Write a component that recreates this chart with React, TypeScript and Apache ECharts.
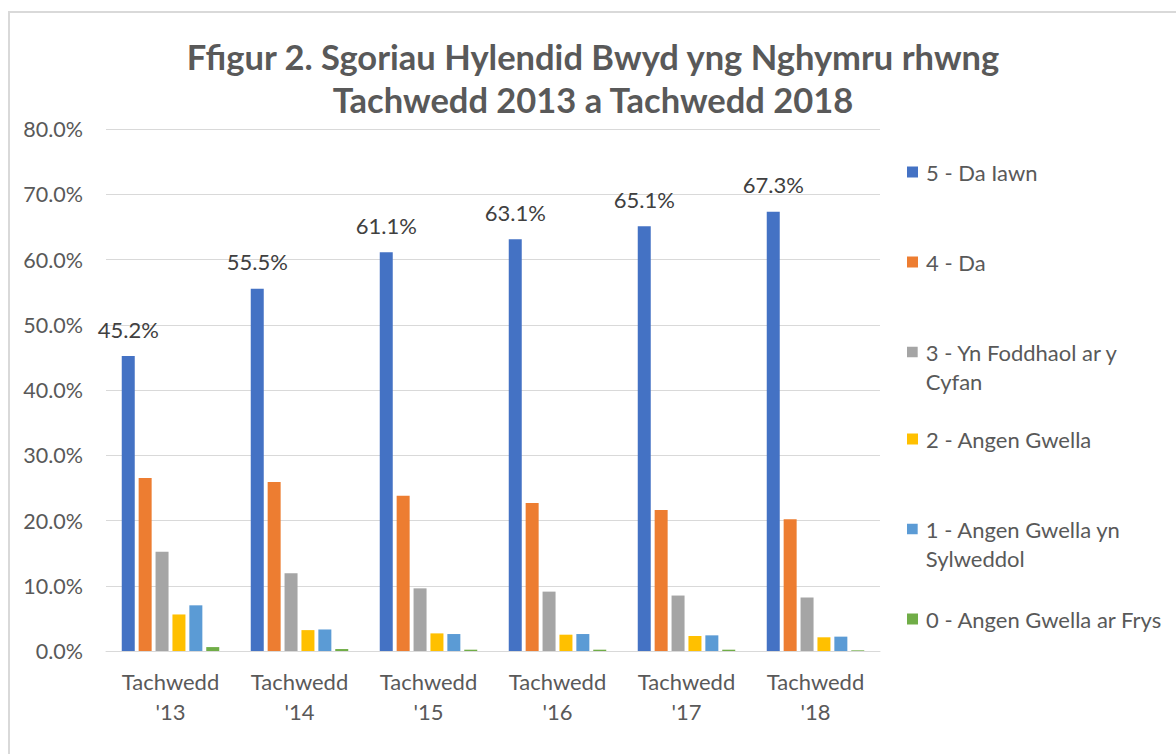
import React, { useEffect, useRef } from "react";
import * as echarts from "echarts";

const categories = ["Tachwedd\n'13", "Tachwedd\n'14", "Tachwedd\n'15", "Tachwedd\n'16", "Tachwedd\n'17", "Tachwedd\n'18"];
const seriesNames = [
  "5 - Da Iawn",
  "4 - Da",
  "3 - Yn Foddhaol ar y\nCyfan",
  "2 - Angen Gwella",
  "1 - Angen Gwella yn\nSylweddol",
  "0 - Angen Gwella ar Frys",
];
const score5 = [45.2, 55.5, 61.1, 63.1, 65.1, 67.3];
const score4 = [26.5, 25.9, 23.8, 22.7, 21.6, 20.2];
const score3 = [15.2, 11.9, 9.6, 9.1, 8.5, 8.2];
const score2 = [5.6, 3.2, 2.7, 2.5, 2.3, 2.1];
const score1 = [7.0, 3.3, 2.6, 2.6, 2.4, 2.2];
const score0 = [0.6, 0.3, 0.2, 0.2, 0.2, 0.1];
const yTicks = { min: 0, max: 80, interval: 10 };
const colors = ["#4472C4", "#ED7D31", "#A5A5A5", "#FFC000", "#5B9BD5", "#70AD47"];
const titleText = "Ffigur 2. Sgoriau Hylendid Bwyd yng Nghymru rhwng\nTachwedd 2013 a Tachwedd 2018";

const FONT = "Lato";
const legendTops = [157, 247, 337, 424, 514, 604];

export default function App() {
  const ref = useRef<HTMLDivElement>(null);
  useEffect(() => {
    if (!ref.current) return;
    const chart = echarts.init(ref.current, null, { renderer: "svg" });
    const allData = [score5, score4, score3, score2, score1, score0];
    const multiIcon = "path://M0,0h10v10h-10z M0,38h0.1v0.1h-0.1z";
    const legends = seriesNames.map((name, i) => {
      const multi = name.includes("\n");
      return {
        data: [name],
        orient: "vertical",
        left: 907,
        top: legendTops[i],
        padding: 0,
        itemWidth: 11,
        itemHeight: multi ? 40.7 : 11,
        icon: multi ? multiIcon : "rect",
        selectedMode: false,
        textStyle: {
          fontFamily: FONT,
          fontSize: 22,
          color: "#595959",
          lineHeight: 30,
          padding: [0, 0, 0, 3],
        },
      };
    });
    const series = allData.map((d, i) => ({
      name: seriesNames[i],
      type: "bar",
      data: d,
      barWidth: 13,
      barGap: "30%",
      itemStyle: { color: colors[i] },
      label:
        i === 0
          ? {
              show: true,
              position: "top",
              distance: 16,
              fontFamily: FONT,
              fontSize: 22,
              color: "#404040",
              formatter: (p: any) => `${Number(p.value).toFixed(1)}%`,
            }
          : { show: false },
    }));
    chart.setOption({
      animation: false,
      backgroundColor: "#ffffff",
      title: {
        text: titleText,
        left: 593,
        top: 35,
        padding: 0,
        textAlign: "center",
        textStyle: {
          fontFamily: FONT,
          fontSize: 34.5,
          fontWeight: "bold",
          color: "#595959",
          lineHeight: 43,
        },
      },
      legend: legends,
      grid: { left: 106, right: 296, top: 129, bottom: 103 },
      xAxis: {
        type: "category",
        data: categories,
        axisLine: { lineStyle: { color: "#d9d9d9", width: 1 } },
        axisTick: { show: false },
        axisLabel: {
          interval: 0,
          fontFamily: FONT,
          fontSize: 22,
          color: "#595959",
          lineHeight: 30,
          margin: 15,
        },
      },
      yAxis: {
        type: "value",
        min: yTicks.min,
        max: yTicks.max,
        interval: yTicks.interval,
        axisLine: { show: false },
        axisTick: { show: false },
        splitLine: { lineStyle: { color: "#d9d9d9", width: 1 } },
        axisLabel: {
          fontFamily: FONT,
          fontSize: 21.5,
          color: "#595959",
          margin: 23,
          formatter: (v: number) => `${v.toFixed(1)}%`,
        },
      },
      graphic: [
        {
          type: "rect",
          silent: true,
          shape: { x: 9, y: 12, width: 1200, height: 800 },
          style: { fill: "none", stroke: "#d9d9d9", lineWidth: 2 },
        },
      ],
      series,
    });
    return () => chart.dispose();
  }, []);
  return (
    <div
      ref={ref}
      style={{ position: "absolute", left: 0, top: 0, width: 1176, height: 754 }}
    />
  );
}
